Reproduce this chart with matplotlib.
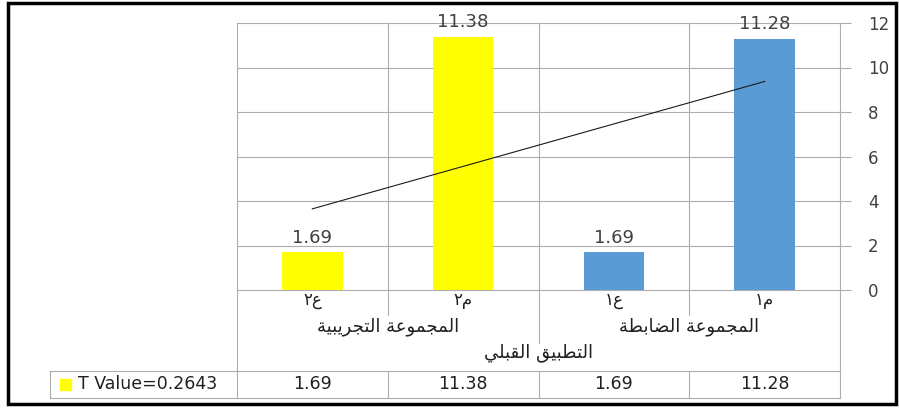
import numpy as np
import matplotlib
matplotlib.use("Agg")
import matplotlib.pyplot as plt
from matplotlib.lines import Line2D
from matplotlib.patches import Rectangle
from matplotlib.transforms import blended_transform_factory

plt.rcParams['font.family'] = ['DejaVu Sans']

# data, left to right as drawn
categories = ['ع٢', 'م٢', 'ع١', 'م١']
groups = ['المجموعة التجريبية', 'المجموعة الضابطة']
level3 = 'التطبيق القبلي'
values = [1.69, 11.38, 1.69, 11.28]
colors = ['#FFFF00', '#FFFF00', '#5B9BD5', '#5B9BD5']
series_name = 'T Value=0.2643'
yticks = [0, 2, 4, 6, 8, 10, 12]

# tiny arabic shaper (matplotlib has no text shaping)
FORMS = {
    'ا': (0xFE8D, 0xFE8E, None, None),
    'ب': (0xFE8F, 0xFE90, 0xFE91, 0xFE92),
    'ة': (0xFE93, 0xFE94, None, None),
    'ت': (0xFE95, 0xFE96, 0xFE97, 0xFE98),
    'ج': (0xFE9D, 0xFE9E, 0xFE9F, 0xFEA0),
    'ر': (0xFEAD, 0xFEAE, None, None),
    'ض': (0xFEBD, 0xFEBE, 0xFEBF, 0xFEC0),
    'ط': (0xFEC1, 0xFEC2, 0xFEC3, 0xFEC4),
    'ع': (0xFEC9, 0xFECA, 0xFECB, 0xFECC),
    'ق': (0xFED5, 0xFED6, 0xFED7, 0xFED8),
    'ل': (0xFEDD, 0xFEDE, 0xFEDF, 0xFEE0),
    'م': (0xFEE1, 0xFEE2, 0xFEE3, 0xFEE4),
    'و': (0xFEED, 0xFEEE, None, None),
    'ي': (0xFEF1, 0xFEF2, 0xFEF3, 0xFEF4),
}

def shape(s):
    out = []
    for i, ch in enumerate(s):
        if ch not in FORMS:
            out.append(ch)
            continue
        prev = s[i-1] if i > 0 else ''
        nxt = s[i+1] if i + 1 < len(s) else ''
        iso, fin, ini, med = FORMS[ch]
        jp = prev in FORMS and FORMS[prev][2] is not None
        jn = ini is not None and nxt in FORMS
        if jp and jn:
            c = med
        elif jp:
            c = fin
        elif jn:
            c = ini
        else:
            c = iso
        out.append(chr(c))
    return ''.join(out)[::-1]

W, H = 899, 409
fig = plt.figure(figsize=(W/100, H/100), dpi=100)
fig.patch.set_facecolor('white')

def fx(px):
    return px / W

def fy(py):
    return 1 - py / H

ax = fig.add_axes([fx(237), fy(290), fx(840) - fx(237), fy(23) - fy(290)])
x = np.arange(len(values))
grid_c = '#ADADAD'
txt_c = '#404040'

ax.bar(x, values, width=0.4, color=colors, zorder=3)
for xi, v in zip(x, values):
    ax.annotate('%.2f' % v, (xi, v), xytext=(0, 4), textcoords='offset points',
                ha='center', va='bottom', fontsize=13, color=txt_c, zorder=4)

# linear trend line
k, b = np.polyfit(x + 1, values, 1)
ax.plot(x, k * (x + 1) + b, color='#1a1a1a', lw=0.8, zorder=4)

ax.set_xlim(-0.5, len(values) - 0.5)
ax.set_ylim(0, 12)
ax.set_yticks(yticks)
ax.yaxis.tick_right()
ax.tick_params(axis='y', length=8, width=0.8, color=grid_c, labelsize=12,
               labelcolor=txt_c, pad=12)
ax.set_xticks([])
for s in ax.spines.values():
    s.set_visible(False)
for t in yticks:
    ax.axhline(t, color=grid_c, lw=0.8, zorder=1, clip_on=False)
for bx in [-0.5, 0.5, 1.5, 2.5, 3.5]:
    ax.axvline(bx, color=grid_c, lw=0.8, zorder=1, clip_on=False)

# multi-level category axis and data table below
tr = blended_transform_factory(ax.transData, fig.transFigure)

def vline(xd, y0, y1):
    fig.add_artist(Line2D([xd, xd], [fy(y0), fy(y1)], transform=tr, color=grid_c, lw=0.8))

for bx in [0.5, 2.5]:
    vline(bx, 290, 315)
vline(1.5, 290, 343)
vline(-0.5, 290, 398)
vline(3.5, 290, 398)
for bx in [0.5, 1.5, 2.5]:
    vline(bx, 371, 398)
leg_left = -0.5 - (237 - 50) / 150.75
for yy in [371, 398]:
    fig.add_artist(Line2D([leg_left, 3.5], [fy(yy), fy(yy)], transform=tr, color=grid_c, lw=0.8))
vline(leg_left, 371, 398)

for xi, c in zip(x, categories):
    fig.text(xi, fy(300), shape(c), transform=tr, ha='center', va='center',
             fontsize=12, color='#202020')
for gi, g in enumerate(groups):
    fig.text(gi * 2 + 0.5, fy(327), shape(g), transform=tr, ha='center', va='center',
             fontsize=13, color='#202020')
fig.text(1.5, fy(353), shape(level3), transform=tr, ha='center', va='center',
         fontsize=13, color='#202020')
for xi, v in zip(x, values):
    fig.text(xi, fy(384), '%.2f' % v, transform=tr, ha='center', va='center',
             fontsize=12.5, color='#202020')

fig.add_artist(Rectangle((fx(60), fy(390)), fx(11), fy(379) - fy(390),
                         transform=fig.transFigure, color='#FFFF00'))
fig.text(fx(78), fy(384), series_name, ha='left', va='center', fontsize=12.5, color='#202020')

# outer frame
fig.add_artist(Rectangle((fx(8), fy(404)), fx(888), fy(3) - fy(404), transform=fig.transFigure,
                         fill=False, edgecolor='black', lw=2.5))

fig.savefig('out.png', dpi=100)
